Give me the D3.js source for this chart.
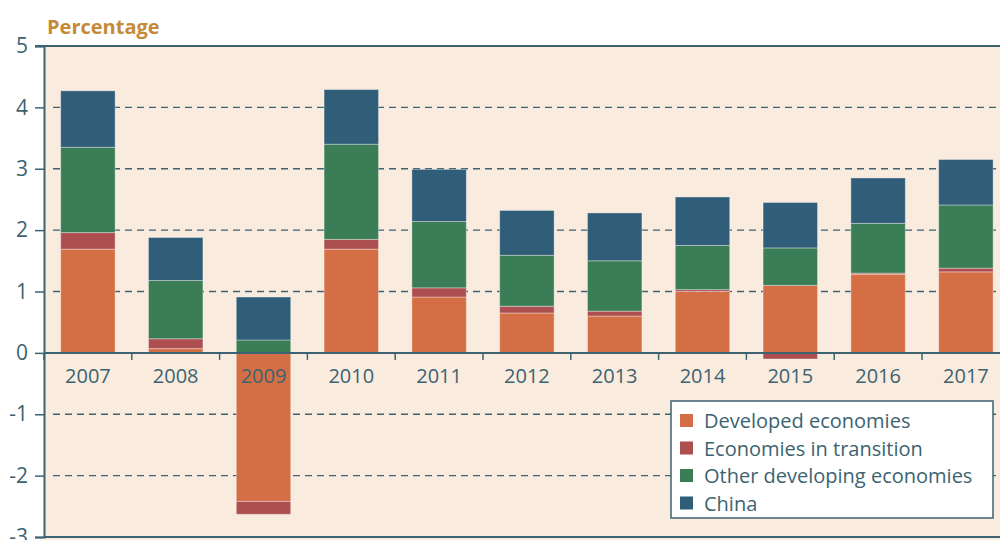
<html>
<head>
    <style>
        body { margin: 0; background: #fff; }
        text { font-family: "Open Sans", "Noto Sans", sans-serif; }
    </style>
</head>
<body>
    <script src="https://d3js.org/d3.v7.min.js"></script>
    <script>
        var width = 1000,
            height = 540;

        // data
        var years = ["2007", "2008", "2009", "2010", "2011", "2012", "2013", "2014", "2015", "2016", "2017"];
        var developed = [1.69, 0.07, -2.42, 1.69, 0.91, 0.65, 0.60, 1.00, 1.10, 1.28, 1.32];
        var transition = [0.27, 0.16, -0.21, 0.16, 0.15, 0.11, 0.08, 0.03, -0.10, 0.02, 0.06];
        var otherDev = [1.39, 0.95, 0.21, 1.55, 1.08, 0.83, 0.82, 0.72, 0.61, 0.81, 1.03];
        var china = [0.92, 0.70, 0.70, 0.89, 0.85, 0.73, 0.78, 0.79, 0.74, 0.74, 0.74];
        var seriesNames = ["Developed economies", "Economies in transition", "Other developing economies", "China"];
        var yTicks = [-3, -2, -1, 0, 1, 2, 3, 4, 5];

        var colors = ["#d46f45", "#ad4f50", "#3a7d56", "#305d77"];
        var axisColor = "#3d6370";

        var margin = { top: 46, left: 44, bottom: 3 };

        var rows = years.map(function (y, i) {
            return { year: y, s0: developed[i], s1: transition[i], s2: otherDev[i], s3: china[i] };
        });

        var stack = d3.stack()
            .keys(["s0", "s1", "s2", "s3"])
            .offset(d3.stackOffsetDiverging);
        var layers = stack(rows);

        var x = d3.scaleBand()
            .domain(years)
            .range([margin.left, margin.left + 87.8 * years.length])
            .paddingInner(0.38)
            .paddingOuter(0.19);

        var y = d3.scaleLinear()
            .domain([-3, 5])
            .range([height - margin.bottom, margin.top]);

        var svg = d3.select("body")
            .append("svg")
            .attr("width", width)
            .attr("height", height);

        // plot background
        svg.append("rect")
            .attr("x", margin.left)
            .attr("y", margin.top)
            .attr("width", width - margin.left)
            .attr("height", height - margin.top)
            .attr("fill", "#faebdf");

        // title
        svg.append("text")
            .attr("x", 47)
            .attr("y", 34)
            .attr("fill", "#c48a38")
            .attr("font-size", 20)
            .attr("font-weight", "bold")
            .text("Percentage");

        // gridlines
        svg.append("g")
            .selectAll("line")
            .data(yTicks.filter(function (d) { return d != 0 && d != 5 && d != -3; }))
            .enter()
            .append("line")
            .attr("x1", 53)
            .attr("x2", width)
            .attr("y1", d => y(d))
            .attr("y2", d => y(d))
            .attr("stroke", axisColor)
            .attr("stroke-width", 1.3)
            .attr("stroke-dasharray", "7,5");

        // bars
        svg.append("g")
            .selectAll("g")
            .data(layers)
            .enter()
            .append("g")
            .attr("fill", (d, i) => colors[i])
            .selectAll("rect")
            .data(d => d)
            .enter()
            .append("rect")
            .attr("x", d => x(d.data.year))
            .attr("width", x.bandwidth())
            .attr("y", d => y(d[1]))
            .attr("height", d => Math.abs(y(d[0]) - y(d[1])))
            .attr("stroke", "rgba(255,255,255,0.35)")
            .attr("stroke-width", 1);

        // y axis
        var yAxis = d3.axisLeft(y)
            .tickValues(yTicks)
            .tickSize(9)
            .tickPadding(7)
            .tickFormat(d3.format("d"));
        var gy = svg.append("g")
            .attr("transform", "translate(" + margin.left + ",0)")
            .call(yAxis);
        gy.select(".domain").attr("stroke", axisColor).attr("stroke-width", 2);
        gy.selectAll(".tick line").attr("stroke", axisColor).attr("stroke-width", 1.5);
        gy.selectAll(".tick text")
            .attr("fill", axisColor)
            .attr("font-size", 21)
            .text(d => d < 0 ? "-" + Math.abs(d) : d);

        // top and bottom frame lines
        svg.append("line")
            .attr("x1", margin.left - 9).attr("x2", width)
            .attr("y1", y(5)).attr("y2", y(5))
            .attr("stroke", axisColor).attr("stroke-width", 2);
        svg.append("line")
            .attr("x1", margin.left).attr("x2", width)
            .attr("y1", y(-3)).attr("y2", y(-3))
            .attr("stroke", axisColor).attr("stroke-width", 2);

        // x axis on zero line
        var zeroY = y(0);
        svg.append("line")
            .attr("x1", margin.left).attr("x2", width)
            .attr("y1", zeroY).attr("y2", zeroY)
            .attr("stroke", axisColor).attr("stroke-width", 2);
        var step = x.step();
        svg.append("g")
            .selectAll("line")
            .data(d3.range(years.length + 1))
            .enter()
            .append("line")
            .attr("x1", i => margin.left + i * step)
            .attr("x2", i => margin.left + i * step)
            .attr("y1", zeroY)
            .attr("y2", zeroY + 7)
            .attr("stroke", axisColor)
            .attr("stroke-width", 1.5);
        svg.append("g")
            .selectAll("text")
            .data(years)
            .enter()
            .append("text")
            .attr("x", d => x(d) + x.bandwidth() / 2)
            .attr("y", zeroY + 30)
            .attr("text-anchor", "middle")
            .attr("fill", axisColor)
            .attr("font-size", 20)
            .text(d => d);

        // legend
        var legend = svg.append("g").attr("transform", "translate(671,401)");
        legend.append("rect")
            .attr("width", 322)
            .attr("height", 117)
            .attr("fill", "#fff")
            .attr("stroke", axisColor)
            .attr("stroke-width", 1.5);
        var item = legend.selectAll("g.item")
            .data(seriesNames)
            .enter()
            .append("g")
            .attr("class", "item")
            .attr("transform", (d, i) => "translate(0," + (20 + i * 27.5) + ")");
        item.append("rect")
            .attr("x", 9)
            .attr("y", -7)
            .attr("width", 13)
            .attr("height", 13)
            .attr("fill", (d, i) => colors[i]);
        item.append("text")
            .attr("x", 33)
            .attr("y", 7)
            .attr("fill", axisColor)
            .attr("font-size", 20)
            .text(d => d);
    </script>
</body>
</html>
